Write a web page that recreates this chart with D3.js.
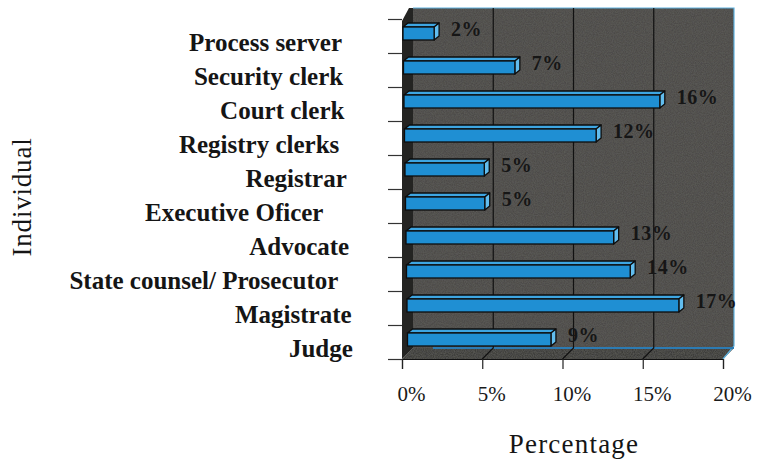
<!DOCTYPE html>
<html>
<head>
<meta charset="utf-8">
<script src="https://cdn.jsdelivr.net/npm/d3@7/dist/d3.min.js"></script>
<style>
  html, body { margin: 0; padding: 0; background: #ffffff; }
  svg { display: block; }
  .cat { white-space: pre; }
</style>
</head>
<body>
<svg id="chart" width="758" height="459"></svg>
<script>
// Share of respondents by individual (court staff and officers)
const categories = [
  "Process server",
  "Security clerk",
  "Court clerk",
  "Registry clerks ",
  "Registrar",
  "Executive Oficer    ",
  "Advocate",
  "State counsel/ Prosecutor  ",
  "Magistrate",
  "Judge"
];
const values = [2, 7, 16, 12, 5, 5, 13, 14, 17, 9];
const xTicks = [0, 5, 10, 15, 20];
const gridValues = [5, 10, 15];

const svg = d3.select("#chart");
const serif = "'Liberation Serif', 'Times New Roman', serif";

// Front plane of the 3-D box and its depth offset
const frontLeft = 402, frontRight = 723, frontTop = 19, frontBottom = 359;
const depthX = 11, depthY = -11;
// Depth of each bar
const barDX = 5, barDY = -4;

const x = d3.scaleLinear().domain([0, 20]).range([frontLeft, frontRight]);
const y = d3.scaleBand().domain(categories).range([frontTop, frontBottom]);
const yEdges = d3.scaleLinear().domain([0, categories.length]).range([frontTop, frontBottom]);

// Grain for the printed walls
const defs = svg.append("defs");
const grain = defs.append("filter").attr("id", "grain")
  .attr("x", 0).attr("y", 0).attr("width", 1).attr("height", 1);
grain.append("feTurbulence").attr("type", "fractalNoise")
  .attr("baseFrequency", 0.9).attr("numOctaves", 2).attr("seed", 3).attr("result", "noise");
grain.append("feColorMatrix").attr("in", "noise").attr("type", "matrix")
  .attr("values", "0 0 0 0 0.12  0 0 0 0 0.12  0 0 0 0 0.11  0 0 0 -1.1 0.85")
  .attr("result", "speck");
grain.append("feComposite").attr("in", "speck").attr("in2", "SourceGraphic").attr("operator", "in").attr("result", "speckIn");
grain.append("feMerge").selectAll("feMergeNode").data(["SourceGraphic", "speckIn"]).join("feMergeNode").attr("in", d => d);

const pts = p => p.map(q => q.join(",")).join(" ");

const backL = frontLeft + depthX, backR = frontRight + depthX;
const backT = frontTop + depthY, backB = frontBottom + depthY;

// Back wall
svg.append("polygon")
  .attr("points", pts([[backL, backT], [backR, backT], [backR, backB], [backL, backB]]))
  .attr("fill", "#4d4c49").attr("filter", "url(#grain)");

// Floor
svg.append("polygon")
  .attr("points", pts([[frontLeft, frontBottom], [backL, backB], [backR, backB], [frontRight, frontBottom]]))
  .attr("fill", "#3d3c3a").attr("filter", "url(#grain)");

// Left wall
svg.append("polygon")
  .attr("points", pts([[frontLeft, frontTop + 2], [backL - 4, backT], [backL, backT], [backL, backB], [frontLeft, frontBottom]]))
  .attr("fill", "#242422");

// Wall edges
svg.append("polyline")
  .attr("points", pts([[backL, backT], [backR, backT], [backR, backB - 2], [frontRight, frontBottom]]))
  .attr("fill", "none").attr("stroke", "#5fb2df").attr("stroke-width", 1.2);
svg.append("line")
  .attr("x1", backL + 20).attr("x2", backR).attr("y1", backB).attr("y2", backB)
  .attr("stroke", "#2c7bb3").attr("stroke-width", 2);

// Gridlines on the back wall, continued across the floor
svg.append("g").selectAll("polyline").data(gridValues).join("polyline")
  .attr("points", d => pts([[x(d) + depthX, backT], [x(d) + depthX, backB], [x(d), frontBottom]]))
  .attr("fill", "none").attr("stroke", "#111").attr("stroke-width", 1.2);

// Horizontal axis
const xAxis = svg.append("g")
  .attr("transform", `translate(0,${frontBottom})`)
  .call(d3.axisBottom(x).tickValues(xTicks).tickFormat(d => d + "%").tickSize(10).tickPadding(17));
xAxis.select(".domain").attr("stroke", "#111").attr("stroke-width", 1.2);
xAxis.selectAll(".tick line").attr("stroke", "#222").attr("stroke-width", 1.2);
xAxis.selectAll(".tick text")
  .attr("dx", 9)
  .attr("font-family", serif)
  .attr("font-size", 21)
  .attr("fill", "#1a1a1a");

// Category tick marks on the left edge
const yAxis = svg.append("g")
  .attr("transform", `translate(${frontLeft},0)`)
  .call(d3.axisLeft(yEdges).tickValues(d3.range(categories.length + 1)).tickFormat("").tickSize(14));
yAxis.select(".domain").remove();
yAxis.selectAll(".tick line").attr("stroke", "#333").attr("stroke-width", 1.2);

// Category labels
svg.append("g").selectAll("text").data(categories).join("text")
  .attr("class", "cat")
  .attr("x", (d, i) => 342 + i * 1.2)
  .attr("y", d => y(d) + y.bandwidth() / 2 + 15)
  .attr("text-anchor", "end")
  .attr("font-family", serif)
  .attr("font-weight", "bold")
  .attr("font-size", 25)
  .attr("fill", "#151515")
  .text(d => d);

// 3-D bars: front face, top face and end cap
const bars = svg.append("g").selectAll("g").data(categories).join("g");
const geom = (d, i) => {
  const c = y(d) + y.bandwidth() / 2;
  const shift = i * 0.5;
  return { x0: x(0) + 1 + shift, x1: x(values[i]) + shift, t: c - 9, b: c + 4, c };
};
bars.append("polygon")
  .attr("points", (d, i) => { const g = geom(d, i);
    return pts([[g.x0, g.t], [g.x0 + barDX, g.t + barDY], [g.x1 + barDX, g.t + barDY], [g.x1, g.t]]); })
  .attr("fill", "#3ea6e2").attr("stroke", "#0d0d0d").attr("stroke-width", 1.3).attr("stroke-linejoin", "round");
bars.append("polygon")
  .attr("points", (d, i) => { const g = geom(d, i);
    return pts([[g.x1, g.t], [g.x1 + barDX, g.t + barDY], [g.x1 + barDX, g.b + barDY], [g.x1, g.b]]); })
  .attr("fill", "#62bdee").attr("stroke", "#0d0d0d").attr("stroke-width", 1.3).attr("stroke-linejoin", "round");
bars.append("rect")
  .attr("x", (d, i) => geom(d, i).x0)
  .attr("y", (d, i) => geom(d, i).t)
  .attr("width", (d, i) => { const g = geom(d, i); return g.x1 - g.x0; })
  .attr("height", (d, i) => { const g = geom(d, i); return g.b - g.t; })
  .attr("fill", "#1f8fd3").attr("stroke", "#0d0d0d").attr("stroke-width", 1.3);

// Value labels
bars.append("text")
  .attr("x", (d, i) => geom(d, i).x1 + barDX + 12)
  .attr("y", (d, i) => geom(d, i).c)
  .attr("font-family", serif)
  .attr("font-weight", "bold")
  .attr("font-size", 20)
  .attr("letter-spacing", 0.5)
  .attr("fill", "#161616")
  .text((d, i) => values[i] + "%");

// Axis titles
svg.append("text")
  .attr("x", 574).attr("y", 453)
  .attr("text-anchor", "middle")
  .attr("font-family", serif)
  .attr("font-size", 27)
  .attr("letter-spacing", 1.2)
  .attr("fill", "#151515")
  .text("Percentage");

svg.append("text")
  .attr("transform", "translate(31,197) rotate(-90)")
  .attr("text-anchor", "middle")
  .attr("font-family", serif)
  .attr("font-size", 27)
  .attr("letter-spacing", 0.8)
  .attr("fill", "#151515")
  .text("Individual");
</script>
</body>
</html>
